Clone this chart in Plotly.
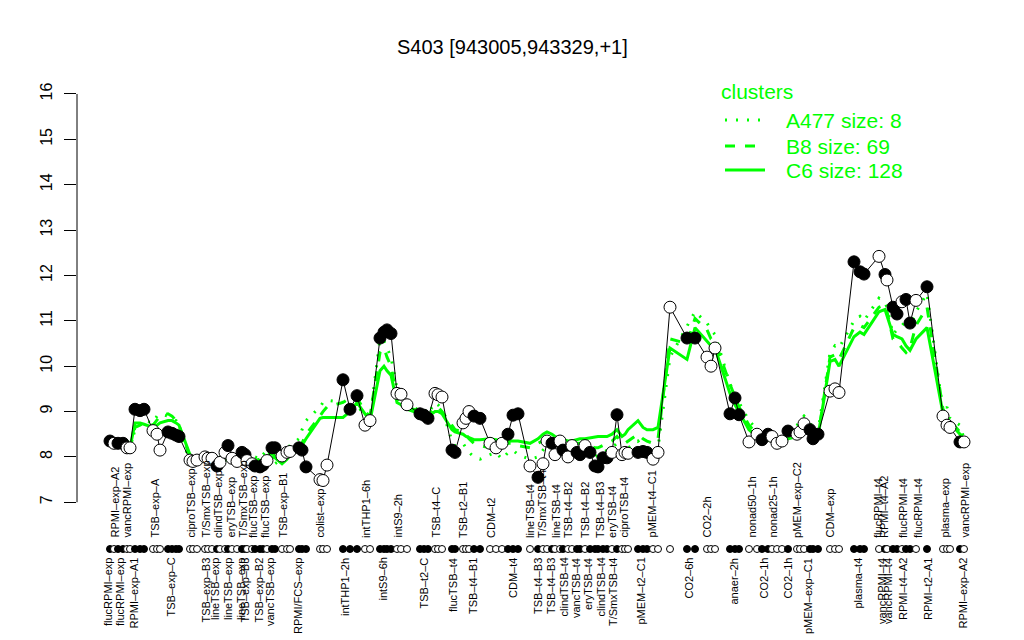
import plotly.graph_objects as go

# ---- data (sample position along x, expression value, filled marker flag) ----
pos = [110,114,118,123,127,130,135,140,144,153,157,160,168,172,176,179,190,193,197,205,
       208,212,217,220,225,228,232,237,242,245,247,252,255,260,263,267,272,275,282,287,
       290,299,302,306,320,323,327,343,350,357,365,370,380,384,387,391,397,401,407,420,
       424,428,435,438,442,452,455,463,466,469,474,480,490,496,502,508,513,518,530,538,
       543,547,552,555,560,563,568,572,577,580,585,590,595,598,603,607,612,617,622,625,
       628,638,643,647,653,658,670,687,695,707,711,715,730,735,739,749,757,762,768,772,
       777,782,788,797,800,804,810,813,818,830,835,839,854,860,864,879,885,887,893,897,
       902,906,910,916,927,943,947,950,960,964]
values = [8.35,8.3,8.3,8.3,8.2,8.2,9.05,9.02,9.05,8.58,8.5,8.15,8.55,8.52,8.48,8.45,7.93,7.9,7.93,8.0,
          7.97,7.97,7.8,7.88,8.1,8.25,7.97,7.9,8.1,8.05,7.92,7.85,7.8,7.78,7.82,7.92,8.2,8.2,8.02,8.1,
          8.12,8.2,8.15,7.78,7.5,7.48,7.82,9.7,9.05,9.35,8.7,8.8,10.62,10.75,10.8,10.72,9.4,9.38,9.15,8.95,
          8.92,8.85,9.4,9.37,9.32,8.15,8.1,8.75,8.85,9.0,8.9,8.85,8.3,8.2,8.3,8.5,8.92,8.95,7.8,7.55,
          7.85,8.35,8.3,8.05,8.35,8.15,8.0,8.25,8.1,8.05,8.25,8.1,7.8,7.78,7.98,7.98,8.1,8.93,8.05,8.1,
          8.08,8.1,8.12,8.1,7.95,8.1,11.3,10.62,10.62,10.2,10.0,10.4,8.95,9.3,8.93,8.33,8.5,8.38,8.5,8.45,
          8.3,8.35,8.57,8.5,8.55,8.73,8.6,8.4,8.5,9.45,9.5,9.42,12.3,12.08,12.03,12.42,12.02,11.9,11.3,11.15,
          11.42,11.47,10.95,11.45,11.75,8.9,8.7,8.65,8.33,8.33]
filled = [1,0,1,1,0,0,1,1,1,0,0,0,1,1,1,1,0,0,0,0,
          0,0,1,0,0,1,0,0,1,1,0,0,1,1,1,0,1,1,0,0,
          0,1,1,1,0,0,0,1,1,1,0,0,1,1,1,1,0,0,0,1,
          1,1,0,0,0,1,1,0,0,0,1,1,0,0,0,1,1,1,0,1,
          0,0,1,0,0,1,0,0,1,1,0,1,1,1,1,1,0,1,0,0,
          0,1,1,1,0,0,0,1,1,0,0,0,1,1,1,0,0,1,1,0,
          0,0,1,0,0,0,1,1,1,0,0,0,1,1,1,0,1,0,1,1,
          0,1,1,0,1,0,0,0,1,0]

# cluster profiles
c6 = [8.3,8.3,8.28,8.25,8.2,8.2,8.75,8.75,8.72,8.65,8.7,8.75,8.8,8.8,8.75,8.7,8.05,7.98,7.95,7.95,
      7.95,7.93,7.9,7.88,7.92,7.95,7.93,7.9,7.95,7.95,7.92,7.9,7.9,7.92,7.95,7.98,8.0,7.98,7.85,7.95,
      8.05,8.15,8.25,8.4,8.85,8.87,8.87,8.87,9.0,9.2,8.95,8.8,9.9,10.0,9.9,9.8,9.2,9.15,9.05,8.95,
      8.9,8.88,9.0,9.0,8.95,8.6,8.55,8.5,8.45,8.42,8.38,8.38,8.4,8.38,8.35,8.35,8.35,8.35,8.3,8.4,
      8.5,8.55,8.5,8.45,8.4,8.38,8.35,8.35,8.38,8.4,8.4,8.42,8.45,8.45,8.45,8.45,8.5,8.6,8.45,8.5,
      8.6,8.8,8.65,8.6,8.6,8.65,10.4,10.15,10.85,10.55,10.45,10.4,9.4,9.15,9.0,8.6,8.45,8.4,8.38,8.35,
      8.35,8.35,8.4,8.45,8.5,8.55,8.55,8.5,8.45,10.1,10.15,10.0,10.65,10.75,10.7,11.2,11.25,11.1,10.7,10.65,
      10.6,10.45,10.35,10.6,10.85,8.95,8.8,8.75,8.5,8.4]
b8 = [8.3,8.28,8.25,8.22,8.2,8.18,8.65,8.7,8.75,8.7,8.8,8.9,8.95,8.9,8.8,8.7,8.0,7.95,7.92,7.98,
      8.0,7.95,7.9,7.95,8.0,8.05,8.0,7.95,8.0,8.05,8.0,7.95,7.92,7.95,8.0,8.05,8.1,8.0,7.9,8.0,
      8.1,8.2,8.3,8.5,8.9,9.0,9.1,9.2,9.3,9.3,9.0,8.9,10.3,10.4,10.2,10.0,9.3,9.2,9.1,9.0,
      8.95,8.9,9.1,9.1,9.0,8.7,8.6,8.55,8.5,8.4,8.3,8.25,8.2,8.15,8.2,8.3,8.3,8.25,8.2,8.3,
      8.35,8.4,8.35,8.3,8.3,8.25,8.2,8.25,8.3,8.3,8.3,8.25,8.2,8.2,8.25,8.3,8.35,8.45,8.3,8.3,
      8.35,8.5,8.4,8.35,8.3,8.4,10.6,10.5,11.05,10.8,10.6,10.55,9.6,9.3,9.1,8.7,8.5,8.45,8.4,8.4,
      8.35,8.4,8.45,8.5,8.55,8.6,8.6,8.5,8.45,10.2,10.25,10.15,10.85,10.9,10.85,11.3,11.35,11.2,10.6,10.55,
      10.4,10.3,10.4,10.9,11.3,9.05,8.9,8.8,8.55,8.45]
a477 = [8.45,8.3,8.25,8.3,8.35,8.2,8.6,8.75,8.8,8.75,8.9,8.95,8.9,8.85,8.8,8.6,7.9,7.85,7.9,7.95,
        8.05,7.9,7.85,8.0,8.1,8.0,7.9,7.95,8.1,7.95,7.85,7.9,8.0,7.95,8.05,8.15,8.0,7.85,7.95,8.1,
        8.25,8.4,8.6,8.8,9.1,9.2,9.25,9.2,9.1,9.15,8.9,8.85,10.6,10.55,10.4,10.2,9.5,9.35,9.2,9.0,
        9.05,8.95,9.2,9.15,9.05,8.35,8.25,8.3,8.2,8.1,8.0,7.95,8.05,8.1,7.95,8.1,8.15,8.05,7.95,8.0,
        8.15,8.25,8.2,8.1,8.15,8.05,8.0,8.05,8.1,8.15,8.1,8.1,8.0,8.05,8.1,8.15,8.2,8.3,8.1,8.15,
        8.2,8.35,8.2,8.15,8.1,8.2,10.2,10.9,11.2,10.95,10.8,10.7,9.6,9.4,9.2,8.8,8.6,8.5,8.45,8.4,
        8.4,8.45,8.55,8.7,8.8,8.9,8.75,8.6,8.55,10.3,10.45,10.4,11.0,11.1,11.0,11.5,11.4,11.3,10.7,10.8,
        10.9,11.0,10.85,11.2,11.6,9.0,9.1,8.85,8.7,8.4]

top_label_pos = [115,127,155,191,206,218,231,243,253,265,283,320,366,398,436,463,491,530,542,556,
                 568,585,600,612,624,652,707,752,773,797,830,878,884,903,918,945,965]
top_label_text = ["RPMI\u2013exp\u2013A2","vancRPMI\u2013exp","TSB\u2013exp\u2013A","ciproTSB\u2013exp",
                  "T/SmxTSB\u2013exp","clindTSB\u2013exp","eryTSB\u2013exp","T/SmxTSB\u2013exp",
                  "flucTSB\u2013exp","flucTSB\u2013exp","TSB\u2013exp\u2013B1","colist\u2013exp",
                  "intTHP1\u20136h","intS9\u20132h","TSB\u2013t4\u2013C","TSB\u2013t2\u2013B1","CDM\u2013t2",
                  "lineTSB\u2013t4","T/SmxTSB\u2013t4","lineTSB\u2013t4","TSB\u2013t4\u2013B2","TSB\u2013t4\u2013B2",
                  "TSB\u2013t4\u2013B3","eryTSB\u2013t4","ciproTSB\u2013t4","pMEM\u2013t4\u2013C1","CO2\u20132h",
                  "nonad50\u20131h","nonad25\u20131h","pMEM\u2013exp\u2013C2","CDM\u2013exp","flucRPMI\u2013t4",
                  "RPMI\u2013t4\u2013A2","flucRPMI\u2013t4","flucRPMI\u2013t4","plasma\u2013exp","vancRPMI\u2013exp"]
bottom_label_pos = [108,120,133,170,205,215,228,241,244,258,270,298,345,382,423,453,473,513,538,551,
                    563,576,588,600,613,640,688,733,763,787,808,857,882,888,903,928,962]
bottom_label_text = ["flucRPMI\u2013exp","flucRPMI\u2013exp","RPMI\u2013exp\u2013A1","TSB\u2013exp\u2013C",
                     "TSB\u2013exp\u2013B3","lineTSB\u2013exp","lineTSB\u2013exp","lineTSB\u2013exp",
                     "TSB\u2013exp\u2013B3","TSB\u2013exp\u2013B2","vancTSB\u2013exp","RPMI/FCS\u2013exp",
                     "intTHP1\u20132h","intS9\u20136h","TSB\u2013t2\u2013C","flucTSB\u2013t4","TSB\u2013t4\u2013B1",
                     "CDM\u2013t4","TSB\u2013t4\u2013B3","TSB\u2013t4\u2013B3","clindTSB\u2013t4","vancTSB\u2013t4",
                     "eryTSB\u2013t4","clindTSB\u2013t4","T/SmxTSB\u2013t4","pMEM\u2013t2\u2013C1","CO2\u20136h",
                     "anaer\u20132h","CO2\u20131h","CO2\u20131h","pMEM\u2013exp\u2013C1","plasma\u2013t4",
                     "vancRPMI\u2013t4","vancRPMI\u2013t4","RPMI\u2013t4\u2013A2","RPMI\u2013t2\u2013A1","RPMI\u2013exp\u2013A2"]
y_ticks = [7, 8, 9, 10, 11, 12, 13, 14, 15, 16]

# ---- layout geometry (screen pixels; page body adds an 8px offset) ----
W, H = 1024, 640
OFF = 8
ML, MR, MT, MB = 77, 49, 60, 85          # plot box on screen
X0, X1 = 77, 975
Y_LO, Y_HI = 5.838, 16.749
ROW_Y = 5.97
TOP_LAB_Y = 6.17
GREEN = "#00FF00"
FONT = "Liberation Sans, Arial, Helvetica, sans-serif"
PW = W - ML - MR
PH = H - MT - MB

def px(xp):
    return (xp - ML) / PW

def py(yp):
    return (H - MB - yp) / PH

fig = go.Figure()

fig.add_trace(go.Scatter(x=pos, y=a477, mode="lines",
                         line=dict(color=GREEN, width=3, dash="2px,9px"), hoverinfo="skip"))
fig.add_trace(go.Scatter(x=pos, y=b8, mode="lines",
                         line=dict(color=GREEN, width=3, dash="10px,10px"), hoverinfo="skip"))
fig.add_trace(go.Scatter(x=pos, y=c6, mode="lines",
                         line=dict(color=GREEN, width=3), hoverinfo="skip"))

fill_colors = ["black" if f else "white" for f in filled]
fig.add_trace(go.Scatter(x=pos, y=values, mode="lines+markers",
                         line=dict(color="black", width=1),
                         marker=dict(size=12, color=fill_colors, line=dict(color="black", width=1))))
fig.add_trace(go.Scatter(x=pos, y=[ROW_Y] * len(pos), mode="markers", cliponaxis=False,
                         marker=dict(size=7, color=fill_colors, line=dict(color="black", width=1))))

annotations = []
for xv, t in zip(top_label_pos, top_label_text):
    annotations.append(dict(x=xv, y=TOP_LAB_Y, xref="x", yref="y", text=t, textangle=-90,
                            showarrow=False, xanchor="center", yanchor="bottom",
                            font=dict(size=11, color="black", family=FONT)))
for xv, t in zip(bottom_label_pos, bottom_label_text):
    annotations.append(dict(x=px(xv), y=py(556), xref="paper", yref="paper", text=t, textangle=-90,
                            showarrow=False, xanchor="center", yanchor="top",
                            font=dict(size=11, color="black", family=FONT)))

# title
annotations.append(dict(x=px(512), y=py(47), xref="paper", yref="paper",
                        text="S403 [943005,943329,+1]", showarrow=False,
                        xanchor="center", yanchor="middle",
                        font=dict(size=20, color="black", family=FONT)))

# legend
annotations.append(dict(x=px(719), y=py(92), xref="paper", yref="paper", text="clusters",
                        showarrow=False, xanchor="left", yanchor="middle",
                        font=dict(size=21, color=GREEN, family=FONT)))
leg = [("A477 size: 8", 120, "2px,9px"), ("B8 size: 69", 146, "10px,10px"), ("C6 size: 128", 170, "solid")]
shapes = []
for t, yy, d in leg:
    annotations.append(dict(x=px(784), y=py(yy), xref="paper", yref="paper", text=t,
                            showarrow=False, xanchor="left", yanchor="middle",
                            font=dict(size=21, color=GREEN, family=FONT)))
    shapes.append(dict(type="line", xref="paper", yref="paper", x0=px(725), x1=px(765),
                       y0=py(yy), y1=py(yy), line=dict(color=GREEN, width=3, dash=d)))

# y axis line (R style, only from 7 to 16)
shapes.append(dict(type="line", xref="paper", yref="y", x0=0, x1=0, y0=7, y1=16,
                   line=dict(color="black", width=1)))

fig.update_layout(
    width=W, height=H,
    margin=dict(l=ML - OFF, r=MR + OFF, t=MT - OFF, b=MB + OFF),
    paper_bgcolor="white", plot_bgcolor="white",
    showlegend=False,
    annotations=annotations, shapes=shapes,
    xaxis=dict(range=[X0, X1], showgrid=False, zeroline=False, showline=False,
               showticklabels=False, ticks=""),
    yaxis=dict(range=[Y_LO, Y_HI], showgrid=False, zeroline=False, showline=False,
               tickvals=y_ticks, ticktext=[str(v) for v in y_ticks], ticks="outside",
               ticklen=12, tickcolor="black", tickangle=-90, ticklabelstandoff=6,
               tickfont=dict(size=16, color="black", family=FONT)),
    font=dict(family=FONT),
)

fig.write_html("out.html")
